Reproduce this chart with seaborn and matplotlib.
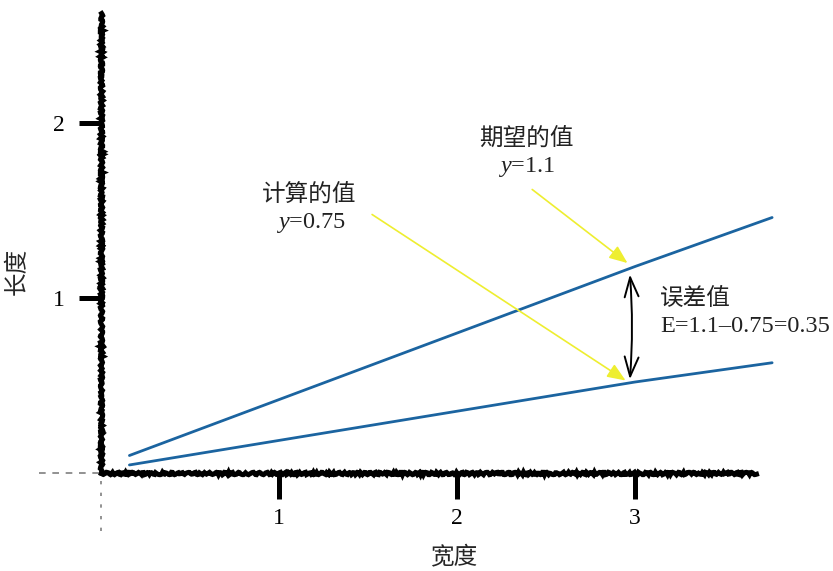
import matplotlib
matplotlib.use("Agg")
import matplotlib.pyplot as plt
import pandas as pd
import seaborn as sns

# two straight lines
width_vals = [0.16, 3.0, 3.77]
calc_len = [0.046, 0.52, 0.63]     # 计算的值
expect_len = [0.10, 1.18, 1.46]    # 期望的值
x_ticks = [1, 2, 3]
y_ticks = [1, 2]

df = pd.DataFrame({
    "宽度": width_vals * 2,
    "长度": expect_len + calc_len,
    "line": ["expect"] * 3 + ["calc"] * 3,
})

sns.set_style("white")
plt.rcParams["font.family"] = ["Noto Sans CJK SC", "DejaVu Sans"]
plt.rcParams["mathtext.fontset"] = "custom"
plt.rcParams["mathtext.it"] = "Liberation Serif:italic"
plt.rcParams["mathtext.rm"] = "Liberation Serif"

fig = plt.figure(figsize=(8.33, 5.71), dpi=100)
ax = fig.add_axes([0, 0, 1, 1])

blue = "#1b64a0"
sns.lineplot(data=df, x="宽度", y="长度", hue="line", palette=[blue, blue],
             linewidth=2.0, legend=False, ax=ax)

ax.set_xlim(-0.567, 4.112)
ax.set_ylim(-0.56, 2.703)

# hand drawn looking axes
for side in ["top", "right"]:
    ax.spines[side].set_visible(False)
ax.spines["left"].set_position(("data", 0))
ax.spines["bottom"].set_position(("data", 0))
ax.spines["left"].set_bounds(0, 2.63)
ax.spines["bottom"].set_bounds(0, 3.68)
for side in ["left", "bottom"]:
    ax.spines[side].set_linewidth(3.6)
    ax.spines[side].set_color("black")
    ax.spines[side].set_sketch_params(scale=1.2, length=6, randomness=3)

# dotted bits beyond the origin
ax.plot([-0.35, 0], [0, 0], color="black", lw=1.2, ls=(0, (4, 4)), alpha=0.5)
ax.plot([0, 0], [-0.33, 0], color="black", lw=1.2, ls=(0, (2, 5)), alpha=0.5)

ax.set_xticks(x_ticks)
ax.set_yticks(y_ticks)
ax.set_xticklabels([str(t) for t in x_ticks], family="Liberation Serif", fontsize=17)
ax.set_yticklabels([str(t) for t in y_ticks], family="Liberation Serif", fontsize=17)
ax.tick_params(axis="x", bottom=True, direction="out", length=19, width=3.6,
               pad=6, colors="black")
ax.tick_params(axis="y", left=True, direction="out", length=16, width=3.6,
               pad=10, colors="black")
for t in ax.xaxis.get_major_ticks() + ax.yaxis.get_major_ticks():
    t.tick1line.set_sketch_params(scale=1.0, length=4, randomness=2)
ax.set_xlabel("")
ax.set_ylabel("")

ax.text(1.98, -0.48, "宽度", fontsize=17, ha="center", va="center",
        fontweight="medium")
ax.text(-0.47, 1.15, "长度", fontsize=17, ha="center", va="center", rotation=90,
        fontweight="medium")

# annotations
yellow = "#eeee30"
txt = "#222222"
ax.text(1.17, 1.585, "计算的值", fontsize=17, ha="center", va="center", color=txt,
        fontweight="medium")
ax.text(1.18, 1.43, "$y$=0.75", fontsize=17.5, ha="center", va="center",
        family="Liberation Serif", color=txt)
ax.annotate("", xy=(2.96, 0.52), xytext=(1.51, 1.486),
            arrowprops=dict(arrowstyle="-|>,head_length=1.1,head_width=0.45",
                            color=yellow, lw=1.2))

ax.text(2.39, 1.91, "期望的值", fontsize=17, ha="center", va="center", color=txt,
        fontweight="medium")
ax.text(2.39, 1.75, "$y$=1.1", fontsize=17.5, ha="center", va="center",
        family="Liberation Serif", color=txt)
ax.annotate("", xy=(2.97, 1.19), xytext=(2.41, 1.63),
            arrowprops=dict(arrowstyle="-|>,head_length=1.1,head_width=0.45",
                            color=yellow, lw=1.2))

ax.annotate("", xy=(2.97, 1.15), xytext=(2.97, 0.52),
            arrowprops=dict(arrowstyle="<->,head_length=1.4,head_width=0.5",
                            color="black", lw=1.4,
                            connectionstyle="arc3,rad=0.04"))
ax.text(3.14, 1.0, "误差值", fontsize=17, ha="left", va="center", color=txt,
        fontweight="medium")
ax.text(3.14, 0.84, "E=1.1–0.75=0.35", fontsize=17.5, ha="left", va="center",
        family="Liberation Serif", color=txt)

fig.savefig("out.png", dpi=100)
